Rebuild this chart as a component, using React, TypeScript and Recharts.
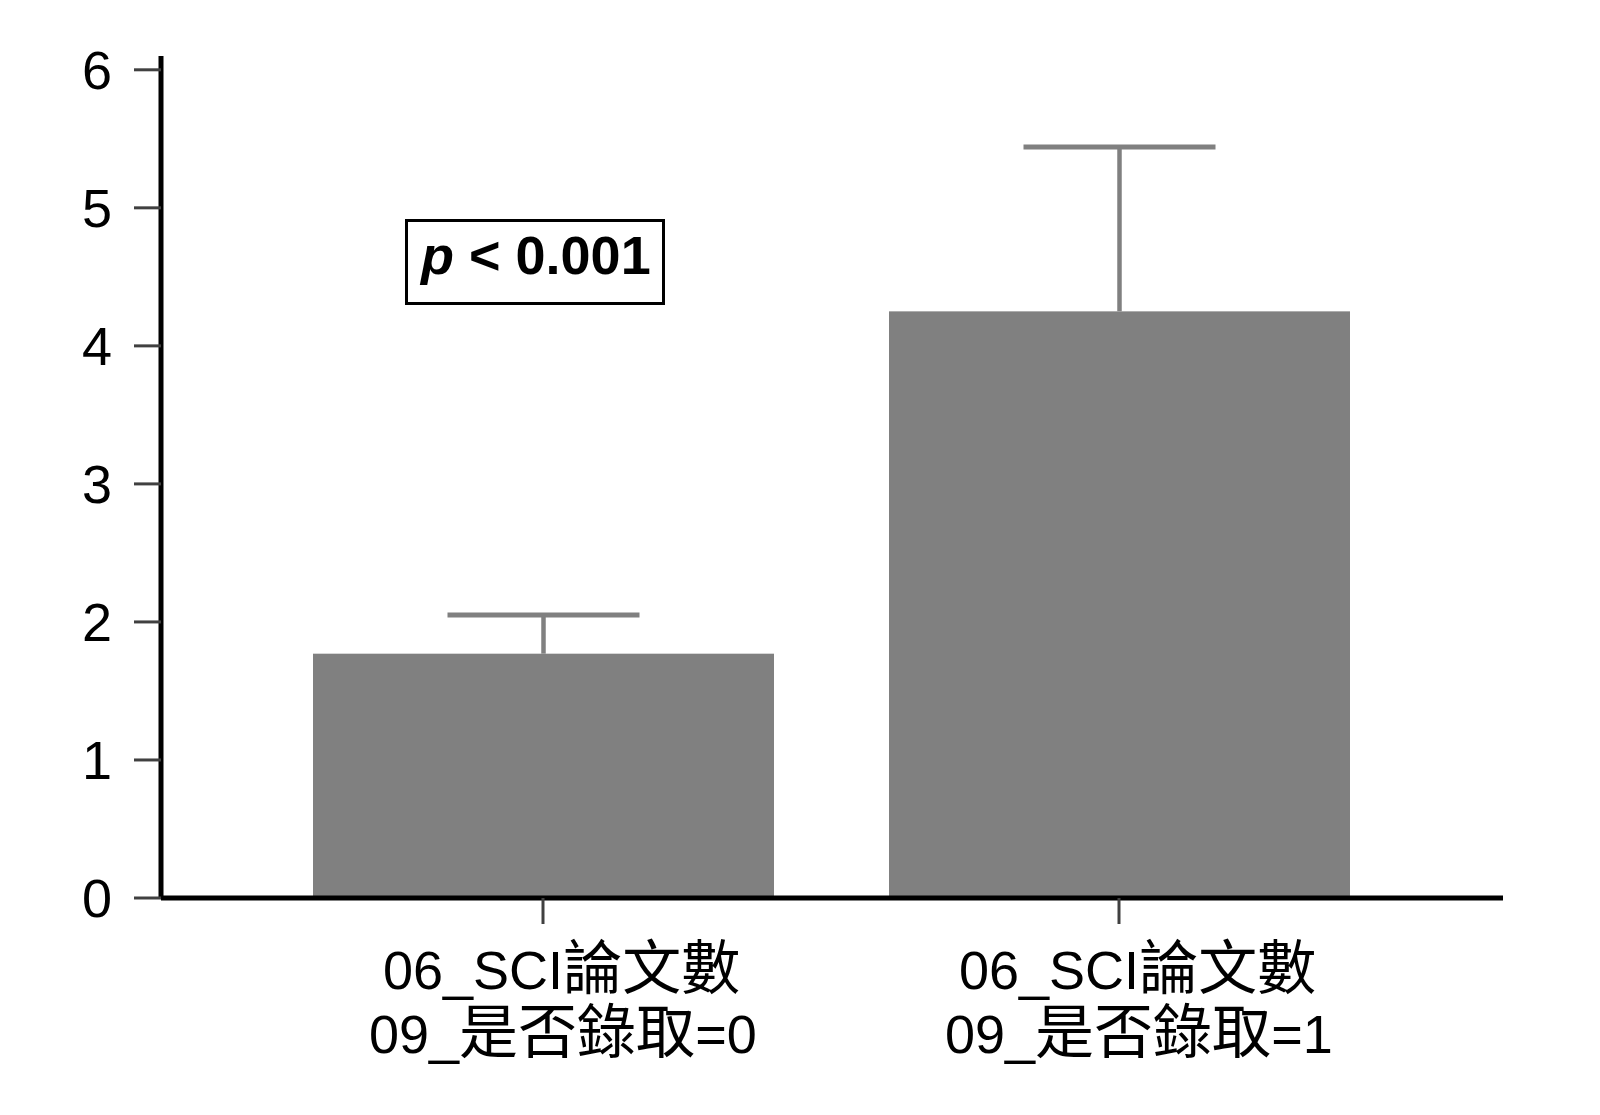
import { BarChart, Bar, XAxis, YAxis } from 'recharts';

const line1Labels = ['06_SCI論文數', '06_SCI論文數'];
const line2Labels = ['09_是否錄取=0', '09_是否錄取=1'];
const means = [1.77, 4.25];
const upperErrors = [0.28, 1.19];
const yTicks = [0, 1, 2, 3, 4, 5, 6];

const chartData = means.map((mean, i) => ({
  name: line2Labels[i],
  mean,
  err: upperErrors[i],
}));

const LATIN = '"Liberation Sans", Arial, sans-serif';
const CJK = '"Noto Sans CJK TC", "Noto Sans CJK SC", sans-serif';
const BAR_GREY = '#808080';
const TICK_GREY = '#404040';
const CAP_HALF = 96;

// split a label into latin / CJK runs so each gets its own font size
function renderRuns(text: string) {
  return text
    .split(/([\u4e00-\u9fff]+)/)
    .filter((s) => s.length > 0)
    .map((run, i) =>
      /[\u4e00-\u9fff]/.test(run) ? (
        <tspan key={i} fontFamily={CJK} fontSize={59}>
          {run}
        </tspan>
      ) : (
        <tspan key={i} fontFamily={LATIN} fontSize={54}>
          {run}
        </tspan>
      )
    );
}

function CategoryTick(props: any) {
  const { x, y, payload } = props;
  const i = payload.index;
  return (
    <g>
      <text x={x - 160} y={y + 65} fill="#000" textAnchor="start">
        {renderRuns(line1Labels[i])}
      </text>
      <text x={x - 174} y={y + 129} fill="#000" textAnchor="start">
        {renderRuns(line2Labels[i])}
      </text>
    </g>
  );
}

// bar plus a one-sided (upper) whisker, scaled from the bar's own geometry
function BarWithWhisker(props: any) {
  const { x, y, width, height, payload } = props;
  const perUnit = height / payload.mean;
  const top = y - payload.err * perUnit;
  const cx = x + width / 2;
  return (
    <g>
      <rect x={x} y={y} width={width} height={height} fill={BAR_GREY} />
      <line x1={cx} y1={y} x2={cx} y2={top} stroke={BAR_GREY} strokeWidth={4.5} />
      <line
        x1={cx - CAP_HALF}
        y1={top}
        x2={cx + CAP_HALF}
        y2={top}
        stroke={BAR_GREY}
        strokeWidth={5}
      />
    </g>
  );
}

export default function App() {
  return (
    <div
      style={{
        position: 'absolute',
        left: 0,
        top: 0,
        width: 1600,
        height: 1115,
        background: '#fff',
      }}
    >
      <BarChart
        width={1600}
        height={1115}
        data={chartData}
        margin={{ top: 56, right: 97, bottom: 67, left: 0 }}
        barSize={461}
      >
        <XAxis
          dataKey="name"
          height={150}
          padding={{ left: 94, right: 96 }}
          axisLine={{ stroke: '#000', strokeWidth: 5 }}
          tickLine={{ stroke: TICK_GREY, strokeWidth: 3 }}
          tickSize={26}
          tickMargin={0}
          interval={0}
          tick={<CategoryTick />}
        />
        <YAxis
          width={161}
          domain={[0, 6.1]}
          ticks={yTicks}
          allowDataOverflow
          axisLine={{ stroke: '#000', strokeWidth: 5 }}
          tickLine={{ stroke: TICK_GREY, strokeWidth: 3 }}
          tickSize={27}
          tickMargin={22}
          tick={{ fill: '#000', fontSize: 54, fontFamily: LATIN }}
        />
        <Bar
          dataKey="mean"
          fill={BAR_GREY}
          isAnimationActive={false}
          shape={<BarWithWhisker />}
        />
      </BarChart>
      <svg
        width={1600}
        height={1115}
        style={{ position: 'absolute', left: 0, top: 0, pointerEvents: 'none' }}
      >
        <rect x={406.5} y={220.5} width={257} height={83} fill="#fff" stroke="#000" strokeWidth={3} />
        <text x={421} y={274} fontFamily={LATIN} fontSize={54} fontWeight="bold" fill="#000">
          <tspan fontStyle="italic">p</tspan>
          <tspan>{' < 0.001'}</tspan>
        </text>
      </svg>
    </div>
  );
}
